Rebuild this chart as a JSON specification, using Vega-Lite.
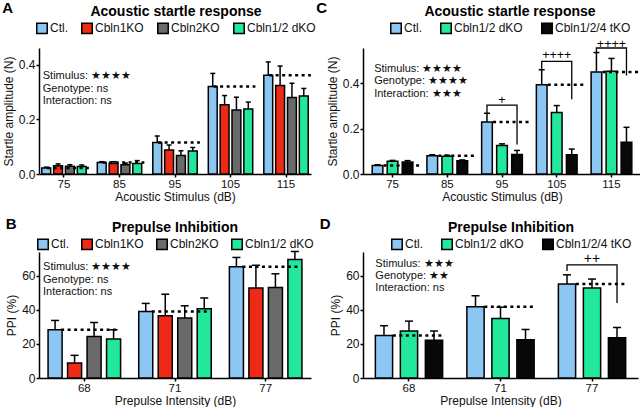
{
  "$schema": "https://vega.github.io/schema/vega-lite/v6.json",
  "padding": {"left": 2, "top": 1, "right": 0, "bottom": 0},
  "config": {
    "font": "Liberation Sans",
    "view": {"stroke": null},
    "axis": {"domainColor": "black", "domainWidth": 1.5, "tickColor": "black", "tickWidth": 1.5, "tickSize": 3, "labelColor": "#111", "labelFontSize": 12, "titleFontSize": 12, "titleFontWeight": "normal", "titleColor": "#111", "grid": false, "labelPadding": 1},
    "axisX": {"labelAngle": 0, "titlePadding": 2, "labelFontSize": 11.5},
    "axisY": {"titlePadding": 3},
    "legend": {"orient": "none", "direction": "horizontal", "titleFontSize": 14, "titleFontWeight": "bold", "titleColor": "black", "titleAnchor": "middle", "titlePadding": 3, "symbolType": "square", "symbolSize": 110, "symbolStrokeColor": "black", "symbolStrokeWidth": 1.5, "symbolOpacity": 1, "labelFontSize": 12, "labelColor": "#111", "labelOffset": 2, "padding": 0},
    "title": {"anchor": "start", "frame": "bounds", "fontSize": 15, "fontWeight": "bold", "color": "black", "offset": 0}
  },
  "datasets": {
    "sA": [
      {"stim": 75, "g": "Ctl.", "m": 0.022, "hi": 0.025},
      {"stim": 75, "g": "Cbln1KO", "m": 0.030, "hi": 0.037},
      {"stim": 75, "g": "Cbln2KO", "m": 0.028, "hi": 0.034},
      {"stim": 75, "g": "Cbln1/2 dKO", "m": 0.027, "hi": 0.033},
      {"stim": 85, "g": "Ctl.", "m": 0.042, "hi": 0.045},
      {"stim": 85, "g": "Cbln1KO", "m": 0.038, "hi": 0.045},
      {"stim": 85, "g": "Cbln2KO", "m": 0.034, "hi": 0.040},
      {"stim": 85, "g": "Cbln1/2 dKO", "m": 0.038, "hi": 0.049},
      {"stim": 95, "g": "Ctl.", "m": 0.115, "hi": 0.139},
      {"stim": 95, "g": "Cbln1KO", "m": 0.088, "hi": 0.106},
      {"stim": 95, "g": "Cbln2KO", "m": 0.068, "hi": 0.085},
      {"stim": 95, "g": "Cbln1/2 dKO", "m": 0.084, "hi": 0.097},
      {"stim": 105, "g": "Ctl.", "m": 0.320, "hi": 0.368},
      {"stim": 105, "g": "Cbln1KO", "m": 0.253, "hi": 0.287},
      {"stim": 105, "g": "Cbln2KO", "m": 0.234, "hi": 0.281},
      {"stim": 105, "g": "Cbln1/2 dKO", "m": 0.238, "hi": 0.263},
      {"stim": 115, "g": "Ctl.", "m": 0.361, "hi": 0.410},
      {"stim": 115, "g": "Cbln1KO", "m": 0.324, "hi": 0.395},
      {"stim": 115, "g": "Cbln2KO", "m": 0.280, "hi": 0.332},
      {"stim": 115, "g": "Cbln1/2 dKO", "m": 0.285, "hi": 0.313}
    ],
    "sC": [
      {"stim": 75, "g": "Ctl.", "m": 0.038, "hi": 0.041},
      {"stim": 75, "g": "Cbln1/2 dKO", "m": 0.056, "hi": 0.060},
      {"stim": 75, "g": "Cbln1/2/4 tKO", "m": 0.053, "hi": 0.059},
      {"stim": 85, "g": "Ctl.", "m": 0.081, "hi": 0.085},
      {"stim": 85, "g": "Cbln1/2 dKO", "m": 0.078, "hi": 0.083},
      {"stim": 85, "g": "Cbln1/2/4 tKO", "m": 0.059, "hi": 0.062},
      {"stim": 95, "g": "Ctl.", "m": 0.229, "hi": 0.268},
      {"stim": 95, "g": "Cbln1/2 dKO", "m": 0.126, "hi": 0.133},
      {"stim": 95, "g": "Cbln1/2/4 tKO", "m": 0.086, "hi": 0.104},
      {"stim": 105, "g": "Ctl.", "m": 0.394, "hi": 0.460},
      {"stim": 105, "g": "Cbln1/2 dKO", "m": 0.271, "hi": 0.302},
      {"stim": 105, "g": "Cbln1/2/4 tKO", "m": 0.085, "hi": 0.110},
      {"stim": 115, "g": "Ctl.", "m": 0.450, "hi": 0.536},
      {"stim": 115, "g": "Cbln1/2 dKO", "m": 0.453, "hi": 0.510},
      {"stim": 115, "g": "Cbln1/2/4 tKO", "m": 0.140, "hi": 0.206}
    ],
    "bC": [
      {"id": 1, "o": 1, "stim": 95, "g": "Ctl.", "y": 0.265},
      {"id": 1, "o": 2, "stim": 95, "g": "Ctl.", "y": 0.304},
      {"id": 1, "o": 3, "stim": 95, "g": "Cbln1/2/4 tKO", "y": 0.304},
      {"id": 1, "o": 4, "stim": 95, "g": "Cbln1/2/4 tKO", "y": 0.13},
      {"id": 2, "o": 1, "stim": 105, "g": "Ctl.", "y": 0.462},
      {"id": 2, "o": 2, "stim": 105, "g": "Ctl.", "y": 0.497},
      {"id": 2, "o": 3, "stim": 105, "g": "Cbln1/2/4 tKO", "y": 0.497},
      {"id": 2, "o": 4, "stim": 105, "g": "Cbln1/2/4 tKO", "y": 0.33},
      {"id": 3, "o": 1, "stim": 115, "g": "Ctl.", "y": 0.537},
      {"id": 3, "o": 2, "stim": 115, "g": "Ctl.", "y": 0.556},
      {"id": 3, "o": 3, "stim": 115, "g": "Cbln1/2/4 tKO", "y": 0.556},
      {"id": 3, "o": 4, "stim": 115, "g": "Cbln1/2/4 tKO", "y": 0.435}
    ],
    "pC": [
      {"stim": 95, "g": "Cbln1/2 dKO", "y": 0.325, "t": "+"},
      {"stim": 105, "g": "Cbln1/2 dKO", "y": 0.525, "t": "++++"},
      {"stim": 115, "g": "Cbln1/2 dKO", "y": 0.574, "t": "++++"}
    ],
    "sB": [
      {"stim": 68, "g": "Ctl.", "m": 28.3, "hi": 33.8},
      {"stim": 68, "g": "Cbln1KO", "m": 8.8, "hi": 13.3},
      {"stim": 68, "g": "Cbln2KO", "m": 24.4, "hi": 32.6},
      {"stim": 68, "g": "Cbln1/2 dKO", "m": 22.9, "hi": 28.3},
      {"stim": 71, "g": "Ctl.", "m": 39.1, "hi": 43.8},
      {"stim": 71, "g": "Cbln1KO", "m": 36.5, "hi": 49.2},
      {"stim": 71, "g": "Cbln2KO", "m": 35.2, "hi": 42.4},
      {"stim": 71, "g": "Cbln1/2 dKO", "m": 40.6, "hi": 47.0},
      {"stim": 77, "g": "Ctl.", "m": 65.4, "hi": 70.8},
      {"stim": 77, "g": "Cbln1KO", "m": 52.9, "hi": 66.2},
      {"stim": 77, "g": "Cbln2KO", "m": 53.2, "hi": 61.2},
      {"stim": 77, "g": "Cbln1/2 dKO", "m": 69.6, "hi": 74.3}
    ],
    "sD": [
      {"stim": 68, "g": "Ctl.", "m": 24.9, "hi": 30.7},
      {"stim": 68, "g": "Cbln1/2 dKO", "m": 27.6, "hi": 33.4},
      {"stim": 68, "g": "Cbln1/2/4 tKO", "m": 22.1, "hi": 27.6},
      {"stim": 71, "g": "Ctl.", "m": 41.8, "hi": 48.3},
      {"stim": 71, "g": "Cbln1/2 dKO", "m": 35.0, "hi": 41.6},
      {"stim": 71, "g": "Cbln1/2/4 tKO", "m": 22.5, "hi": 28.5},
      {"stim": 77, "g": "Ctl.", "m": 55.2, "hi": 60.6},
      {"stim": 77, "g": "Cbln1/2 dKO", "m": 52.8, "hi": 58.1},
      {"stim": 77, "g": "Cbln1/2/4 tKO", "m": 23.7, "hi": 29.7}
    ],
    "bD": [
      {"id": 1, "o": 1, "stim": 77, "g": "Ctl.", "y": 62.9},
      {"id": 1, "o": 2, "stim": 77, "g": "Ctl.", "y": 66.4},
      {"id": 1, "o": 3, "stim": 77, "g": "Cbln1/2/4 tKO", "y": 66.4},
      {"id": 1, "o": 4, "stim": 77, "g": "Cbln1/2/4 tKO", "y": 44.1}
    ],
    "pD": [
      {"stim": 77, "g": "Cbln1/2 dKO", "y": 69.9, "t": "++"}
    ]
  },
  "columns": 2,
  "spacing": {"row": 14, "column": 0},
  "resolve": {"scale": {"color": "independent", "x": "independent", "y": "independent", "xOffset": "independent"}, "legend": {"color": "independent"}},
  "concat": [
    {
      "width": 272, "height": 126,
      "title": {"text": "A", "dy": 15},
      "layer": [
        {"data": {"name": "sA"}, "mark": {"type": "bar", "stroke": "black", "strokeWidth": 1.5},
         "encoding": {
           "x": {"field": "stim", "type": "ordinal", "scale": {"paddingInner": 0.2, "paddingOuter": 0.05}, "axis": {"title": "Acoustic Stimulus (dB)"}},
           "xOffset": {"field": "g", "type": "nominal", "scale": {"domain": ["Ctl.", "Cbln1KO", "Cbln2KO", "Cbln1/2 dKO"], "paddingInner": 0.25, "paddingOuter": 0}},
           "y": {"field": "m", "type": "quantitative", "scale": {"domain": [0, 0.461], "nice": false}, "axis": {"values": [0, 0.1, 0.2, 0.3, 0.4], "format": ".1f", "title": "Startle amplitude (N)"}},
           "color": {"field": "g", "type": "nominal", "scale": {"domain": ["Ctl.", "Cbln1KO", "Cbln2KO", "Cbln1/2 dKO"], "range": ["#8cc6f2", "#ee2a16", "#6a6a6a", "#22e89c"]},
             "legend": {"title": "Acoustic startle response", "legendX": -3, "legendY": -43, "columnPadding": 10}}
         }},
        {"data": {"name": "sA"}, "mark": {"type": "rule", "color": "black", "strokeWidth": 1.5},
         "encoding": {"x": {"field": "stim", "type": "ordinal"}, "xOffset": {"field": "g", "type": "nominal", "scale": {"domain": ["Ctl.", "Cbln1KO", "Cbln2KO", "Cbln1/2 dKO"]}}, "y": {"field": "m", "type": "quantitative"}, "y2": {"field": "hi"}}},
        {"data": {"name": "sA"}, "mark": {"type": "tick", "color": "black", "thickness": 1.5, "size": 5, "opacity": 1},
         "encoding": {"x": {"field": "stim", "type": "ordinal"}, "xOffset": {"field": "g", "type": "nominal", "scale": {"domain": ["Ctl.", "Cbln1KO", "Cbln2KO", "Cbln1/2 dKO"]}}, "y": {"field": "hi", "type": "quantitative"}}},
        {"data": {"name": "sA"}, "transform": [{"filter": "datum.g === 'Ctl.'"}], "mark": {"type": "rule", "color": "black", "strokeWidth": 2.5, "strokeDash": [3, 3.5]},
         "encoding": {"x": {"field": "stim", "type": "ordinal", "bandPosition": 0.12}, "x2": {"field": "stim", "bandPosition": 1.06}, "y": {"field": "m", "type": "quantitative"}}},
        {"data": {"name": "sA"}, "transform": [{"filter": "datum.g === 'Ctl.' && datum.stim === 75"}], "mark": {"type": "text", "align": "left", "baseline": "top", "fontSize": 11, "lineHeight": 12.5, "dx": 1, "color": "#111"},
         "encoding": {"x": {"field": "stim", "type": "ordinal", "bandPosition": 0}, "y": {"datum": 0.38}, "text": {"value": ["Stimulus: ★★★★", "Genotype: ns", "Interaction: ns"]}}}
      ]
    },
    {
      "width": 278, "height": 126,
      "title": {"text": "C", "dy": 15, "dx": -10},
      "layer": [
        {"data": {"name": "sC"}, "mark": {"type": "bar", "stroke": "black", "strokeWidth": 1.5},
         "encoding": {
           "x": {"field": "stim", "type": "ordinal", "scale": {"paddingInner": 0.256, "paddingOuter": 0.168}, "axis": {"title": "Acoustic Stimulus (dB)"}},
           "xOffset": {"field": "g", "type": "nominal", "scale": {"domain": ["Ctl.", "Cbln1/2 dKO", "Cbln1/2/4 tKO"], "paddingInner": 0.29, "paddingOuter": 0}},
           "y": {"field": "m", "type": "quantitative", "scale": {"domain": [0, 0.556], "nice": false}, "axis": {"values": [0, 0.2, 0.4], "format": ".1f", "title": "Startle amplitude (N)"}},
           "color": {"field": "g", "type": "nominal", "scale": {"domain": ["Ctl.", "Cbln1/2 dKO", "Cbln1/2/4 tKO"], "range": ["#8cc6f2", "#22e89c", "#080808"]},
             "legend": {"title": "Acoustic startle response", "legendX": 27, "legendY": -43, "columnPadding": 15}}
         }},
        {"data": {"name": "sC"}, "mark": {"type": "rule", "color": "black", "strokeWidth": 1.5},
         "encoding": {"x": {"field": "stim", "type": "ordinal"}, "xOffset": {"field": "g", "type": "nominal", "scale": {"domain": ["Ctl.", "Cbln1/2 dKO", "Cbln1/2/4 tKO"]}}, "y": {"field": "m", "type": "quantitative"}, "y2": {"field": "hi"}}},
        {"data": {"name": "sC"}, "mark": {"type": "tick", "color": "black", "thickness": 1.5, "size": 6, "opacity": 1},
         "encoding": {"x": {"field": "stim", "type": "ordinal"}, "xOffset": {"field": "g", "type": "nominal", "scale": {"domain": ["Ctl.", "Cbln1/2 dKO", "Cbln1/2/4 tKO"]}}, "y": {"field": "hi", "type": "quantitative"}}},
        {"data": {"name": "sC"}, "transform": [{"filter": "datum.g === 'Ctl.'"}], "mark": {"type": "rule", "color": "black", "strokeWidth": 2.5, "strokeDash": [3, 3.5]},
         "encoding": {"x": {"field": "stim", "type": "ordinal", "bandPosition": 0.28}, "x2": {"field": "stim", "bandPosition": 1.16}, "y": {"field": "m", "type": "quantitative"}}},
        {"data": {"name": "bC"}, "mark": {"type": "line", "color": "black", "strokeWidth": 1.3},
         "encoding": {"x": {"field": "stim", "type": "ordinal"}, "xOffset": {"field": "g", "type": "nominal", "scale": {"domain": ["Ctl.", "Cbln1/2 dKO", "Cbln1/2/4 tKO"]}}, "y": {"field": "y", "type": "quantitative"}, "detail": {"field": "id"}, "order": {"field": "o"}}},
        {"data": {"name": "pC"}, "mark": {"type": "text", "fontSize": 12.5, "baseline": "middle", "color": "black"},
         "encoding": {"x": {"field": "stim", "type": "ordinal"}, "xOffset": {"field": "g", "type": "nominal", "scale": {"domain": ["Ctl.", "Cbln1/2 dKO", "Cbln1/2/4 tKO"]}}, "y": {"field": "y", "type": "quantitative"}, "text": {"field": "t"}}},
        {"data": {"name": "sC"}, "transform": [{"filter": "datum.g === 'Ctl.' && datum.stim === 75"}], "mark": {"type": "text", "align": "left", "baseline": "top", "fontSize": 11, "lineHeight": 12.5, "dx": 2, "color": "#111"},
         "encoding": {"x": {"field": "stim", "type": "ordinal", "bandPosition": 0}, "y": {"datum": 0.49}, "text": {"value": ["Stimulus: ★★★★", "Genotype: ★★★★", "Interaction: ★★★"]}}}
      ]
    },
    {
      "width": 272, "height": 126,
      "title": {"text": "B", "dy": 15},
      "layer": [
        {"data": {"name": "sB"}, "mark": {"type": "bar", "stroke": "black", "strokeWidth": 1.5},
         "encoding": {
           "x": {"field": "stim", "type": "ordinal", "scale": {"paddingInner": 0.2, "paddingOuter": 0.1}, "axis": {"title": "Prepulse Intensity (dB)"}},
           "xOffset": {"field": "g", "type": "nominal", "scale": {"domain": ["Ctl.", "Cbln1KO", "Cbln2KO", "Cbln1/2 dKO"], "paddingInner": 0.28, "paddingOuter": 0}},
           "y": {"field": "m", "type": "quantitative", "scale": {"domain": [0, 74], "nice": false}, "axis": {"values": [0, 20, 40, 60], "title": "PPI (%)"}},
           "color": {"field": "g", "type": "nominal", "scale": {"domain": ["Ctl.", "Cbln1KO", "Cbln2KO", "Cbln1/2 dKO"], "range": ["#8cc6f2", "#ee2a16", "#6a6a6a", "#22e89c"]},
             "legend": {"title": "Prepulse Inhibition", "legendX": -2, "legendY": -31, "columnPadding": 9}}
         }},
        {"data": {"name": "sB"}, "mark": {"type": "rule", "color": "black", "strokeWidth": 1.5},
         "encoding": {"x": {"field": "stim", "type": "ordinal"}, "xOffset": {"field": "g", "type": "nominal", "scale": {"domain": ["Ctl.", "Cbln1KO", "Cbln2KO", "Cbln1/2 dKO"]}}, "y": {"field": "m", "type": "quantitative"}, "y2": {"field": "hi"}}},
        {"data": {"name": "sB"}, "mark": {"type": "tick", "color": "black", "thickness": 1.5, "size": 8, "opacity": 1},
         "encoding": {"x": {"field": "stim", "type": "ordinal"}, "xOffset": {"field": "g", "type": "nominal", "scale": {"domain": ["Ctl.", "Cbln1KO", "Cbln2KO", "Cbln1/2 dKO"]}}, "y": {"field": "hi", "type": "quantitative"}}},
        {"data": {"name": "sB"}, "transform": [{"filter": "datum.g === 'Ctl.'"}], "mark": {"type": "rule", "color": "black", "strokeWidth": 2.5, "strokeDash": [3, 3.5]},
         "encoding": {"x": {"field": "stim", "type": "ordinal", "bandPosition": 0.18}, "x2": {"field": "stim", "bandPosition": 0.97}, "y": {"field": "m", "type": "quantitative"}}},
        {"data": {"name": "sB"}, "transform": [{"filter": "datum.g === 'Ctl.' && datum.stim === 68"}], "mark": {"type": "text", "align": "left", "baseline": "top", "fontSize": 11, "lineHeight": 12.5, "dx": -5, "color": "#111"},
         "encoding": {"x": {"field": "stim", "type": "ordinal", "bandPosition": 0}, "y": {"datum": 68.6}, "text": {"value": ["Stimulus: ★★★★", "Genotype: ns", "Interaction: ns"]}}}
      ]
    },
    {
      "width": 275, "height": 126,
      "title": {"text": "D", "dy": 15, "dx": -10},
      "layer": [
        {"data": {"name": "sD"}, "mark": {"type": "bar", "stroke": "black", "strokeWidth": 1.5},
         "encoding": {
           "x": {"field": "stim", "type": "ordinal", "scale": {"paddingInner": 0.265, "paddingOuter": 0.135}, "axis": {"title": "Prepulse Intensity (dB)"}},
           "xOffset": {"field": "g", "type": "nominal", "scale": {"domain": ["Ctl.", "Cbln1/2 dKO", "Cbln1/2/4 tKO"], "paddingInner": 0.31, "paddingOuter": 0}},
           "y": {"field": "m", "type": "quantitative", "scale": {"domain": [0, 74], "nice": false}, "axis": {"values": [0, 20, 40, 60], "title": "PPI (%)"}},
           "color": {"field": "g", "type": "nominal", "scale": {"domain": ["Ctl.", "Cbln1/2 dKO", "Cbln1/2/4 tKO"], "range": ["#8cc6f2", "#22e89c", "#080808"]},
             "legend": {"title": "Prepulse Inhibition", "legendX": 28, "legendY": -31, "columnPadding": 15}}
         }},
        {"data": {"name": "sD"}, "mark": {"type": "rule", "color": "black", "strokeWidth": 1.5},
         "encoding": {"x": {"field": "stim", "type": "ordinal"}, "xOffset": {"field": "g", "type": "nominal", "scale": {"domain": ["Ctl.", "Cbln1/2 dKO", "Cbln1/2/4 tKO"]}}, "y": {"field": "m", "type": "quantitative"}, "y2": {"field": "hi"}}},
        {"data": {"name": "sD"}, "mark": {"type": "tick", "color": "black", "thickness": 1.5, "size": 8, "opacity": 1},
         "encoding": {"x": {"field": "stim", "type": "ordinal"}, "xOffset": {"field": "g", "type": "nominal", "scale": {"domain": ["Ctl.", "Cbln1/2 dKO", "Cbln1/2/4 tKO"]}}, "y": {"field": "hi", "type": "quantitative"}}},
        {"data": {"name": "sD"}, "transform": [{"filter": "datum.g === 'Ctl.'"}], "mark": {"type": "rule", "color": "black", "strokeWidth": 2.5, "strokeDash": [3, 3.5]},
         "encoding": {"x": {"field": "stim", "type": "ordinal", "bandPosition": 0.26}, "x2": {"field": "stim", "bandPosition": 1.03}, "y": {"field": "m", "type": "quantitative"}}},
        {"data": {"name": "bD"}, "mark": {"type": "line", "color": "black", "strokeWidth": 1.3},
         "encoding": {"x": {"field": "stim", "type": "ordinal"}, "xOffset": {"field": "g", "type": "nominal", "scale": {"domain": ["Ctl.", "Cbln1/2 dKO", "Cbln1/2/4 tKO"]}}, "y": {"field": "y", "type": "quantitative"}, "detail": {"field": "id"}, "order": {"field": "o"}}},
        {"data": {"name": "pD"}, "mark": {"type": "text", "fontSize": 14, "baseline": "middle", "color": "black"},
         "encoding": {"x": {"field": "stim", "type": "ordinal"}, "xOffset": {"field": "g", "type": "nominal", "scale": {"domain": ["Ctl.", "Cbln1/2 dKO", "Cbln1/2/4 tKO"]}}, "y": {"field": "y", "type": "quantitative"}, "text": {"field": "t"}}},
        {"data": {"name": "sD"}, "transform": [{"filter": "datum.g === 'Ctl.' && datum.stim === 68"}], "mark": {"type": "text", "align": "left", "baseline": "top", "fontSize": 11, "lineHeight": 12, "dx": 0, "color": "#111"},
         "encoding": {"x": {"field": "stim", "type": "ordinal", "bandPosition": 0}, "y": {"datum": 70.7}, "text": {"value": ["Stimulus: ★★★", "Genotype: ★★", "Interaction: ns"]}}}
      ]
    }
  ]
}
